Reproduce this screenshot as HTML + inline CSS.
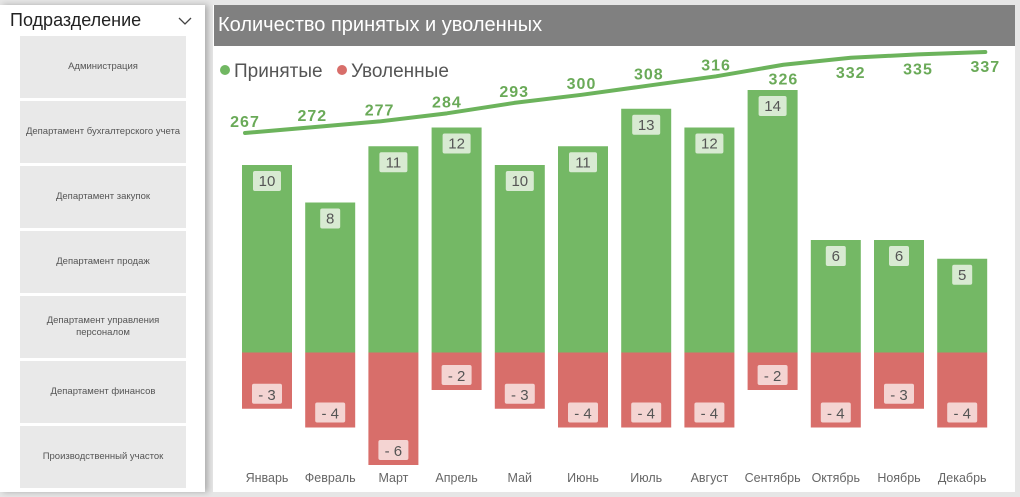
<!DOCTYPE html>
<html><head><meta charset="utf-8"><style>
body{margin:0;width:1020px;height:497px;background:#e6e6e6;font-family:"Liberation Sans",sans-serif;position:relative;overflow:hidden}
#slicer{position:absolute;left:0;top:5px;width:205px;height:487px;background:#fff;box-shadow:3px 0 6px rgba(0,0,0,.25)}
.item{position:absolute;left:20px;width:166px;height:62px;background:#e9e9e9;display:flex;align-items:center;justify-content:center;text-align:center;font-size:9.5px;color:#555;line-height:12px}
#chartp{position:absolute;left:213px;top:5px;width:802px;height:487px;background:#fff}
</style></head><body>
<div id="slicer">
<div style="position:absolute;left:10px;top:5px;font-size:18px;color:#222">Подразделение</div>
<svg style="position:absolute;left:178px;top:12px" width="14" height="9"><polyline points="1,1 7,7 13,1" fill="none" stroke="#444" stroke-width="1.3"/></svg>
<div class="item" style="top:31px">Администрация</div>
<div class="item" style="top:96px">Департамент бухгалтерского учета</div>
<div class="item" style="top:161px">Департамент закупок</div>
<div class="item" style="top:226px">Департамент продаж</div>
<div class="item" style="top:291px">Департамент управления<br>персоналом</div>
<div class="item" style="top:356px">Департамент финансов</div>
<div class="item" style="top:421px">Производственный участок</div>
</div>
<div id="chartp"></div>
<svg id="ch" width="1020" height="497" style="position:absolute;left:0;top:0" font-family="Liberation Sans, sans-serif">
<rect x="214" y="5" width="801" height="41" fill="#808080"/>
<text x="218" y="31" font-size="20" fill="#fff">Количество принятых и уволенных</text>
<g>
<circle cx="225" cy="70" r="5" fill="#71b762"/>
<text x="234" y="77" font-size="19" fill="#555">Принятые</text>
<circle cx="342" cy="70" r="5" fill="#d86e6a"/>
<text x="351" y="77" font-size="19" fill="#555">Уволенные</text>
</g>
<g id="bars"></g><g id="line"></g>
</svg>
<script>
const months=["Январь","Февраль","Март","Апрель","Май","Июнь","Июль","Август","Сентябрь","Октябрь","Ноябрь","Декабрь"];
const hired=[10,8,11,12,10,11,13,12,14,6,6,5];
const fired=[-3,-4,-6,-2,-3,-4,-4,-4,-2,-4,-3,-4];
const total=[267,272,277,284,293,300,308,316,326,332,335,337];
const NS="http://www.w3.org/2000/svg";
const zeroY=352.5, unit=18.75;
const bx=i=>267+i*63.2;
const by=v=>zeroY-v*unit;
const lx=i=>245+i*67.3;
const ly=v=>133-(v-267)*1.157;
function mk(t,a,p){const e=document.createElementNS(NS,t);for(const k in a)e.setAttribute(k,a[k]);(p||document.getElementById('bars')).appendChild(e);return e;}
months.forEach((m,i)=>{
 const x=bx(i);
 const r1=mk('rect',{x:x-25,y:by(hired[i]),width:50,height:by(0)-by(hired[i]),fill:'#74b865'});
 
 
 const r2=mk('rect',{x:x-25,y:by(0),width:50,height:by(fired[i])-by(0),fill:'#d86e6a'});
 
 
 const w1=String(hired[i]).length>1?28:20;
 const b1=mk('rect',{x:x-w1/2,y:by(hired[i])+6,width:w1,height:20,rx:2,fill:'#d8ead2'});
 
 
 const t1=mk('text',{x:x,y:by(hired[i])+21,'text-anchor':'middle','font-size':15,fill:'#555'});
 t1.textContent=hired[i];
 
 
 const yb=by(fired[i]);
 const b2=mk('rect',{x:x-15,y:yb-25,width:30,height:20,rx:2,fill:'#f4d4d2'});
 
 
 const t2=mk('text',{x:x,y:yb-9,'text-anchor':'middle','font-size':15,fill:'#555'});
 t2.textContent='- '+Math.abs(fired[i]);
 
 
 const t3=mk('text',{x:x,y:482,'text-anchor':'middle','font-size':12.5,fill:'#666'});
 t3.textContent=m;
 
 
});
const lg=document.getElementById('line');
const pl=mk('polyline',{points:total.map((v,i)=>lx(i)+','+ly(v)).join(' '),fill:'none',stroke:'#6cb35c','stroke-width':4,'stroke-linejoin':'round','stroke-linecap':'round'},lg);


total.forEach((v,i)=>{
 const y=ly(v);
 const above=y>70;
 const t=mk('text',{x:lx(i),y:above?y-6:y+20,'text-anchor':'middle','font-size':16,'font-weight':'bold',fill:'#6aaa58','letter-spacing':'1'},lg);
 t.textContent=v;
 
 
});
</script>
</body></html>
